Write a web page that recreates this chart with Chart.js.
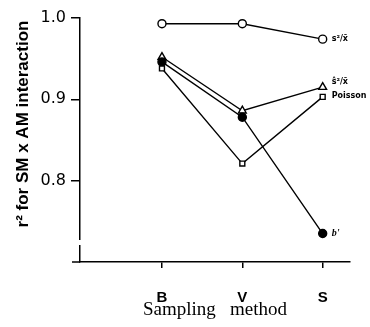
<!DOCTYPE html>
<html>
<head>
<meta charset="utf-8">
<script src="https://cdn.jsdelivr.net/npm/chart.js@4.4.0/dist/chart.umd.min.js"></script>
<style>
  html, body { margin: 0; padding: 0; background: #fff; }
  #wrap { width: 370px; height: 327px; }
</style>
</head>
<body>
<div id="wrap"><canvas id="chart" width="370" height="327"></canvas></div>
<script>
// sampling methods on the x axis
const methods = ['B', 'V', 'S'];
// r^2 values
const s2xValues = [0.993, 0.993, 0.974];
const shatValues = [0.952, 0.886, 0.915];
const poissonValues = [0.938, 0.821, 0.903];
const bPrimeValues = [0.946, 0.878, 0.735];
const seriesNames = ['s²/x̄', 'ŝ²/x̄', 'Poisson', "b'"];
const yTicks = [0.8, 0.9, 1.0];

const toPoints = vals => vals.map((v, i) => ({ x: i, y: v }));

// draws the axis break, the cross at the origin, the series labels and the y title
const extras = {
    id: 'extras',
    afterDraw(chart) {
        const ctx = chart.ctx;
        const xs = chart.scales.x, ys = chart.scales.y;
        const area = chart.chartArea;
        ctx.save();
        // break in the y axis
        ctx.fillStyle = '#fff';
        ctx.fillRect(area.left - 3, 240, 6, 5);
        // x axis sticks out a bit left of the y axis
        ctx.strokeStyle = '#000';
        ctx.lineWidth = 1.5;
        ctx.beginPath();
        ctx.moveTo(area.left - 8, area.bottom);
        ctx.lineTo(area.left, area.bottom);
        ctx.stroke();

        // series labels next to the S points
        ctx.fillStyle = '#000';
        ctx.textBaseline = 'middle';
        const sx = xs.getPixelForValue(2) + 9;
        ctx.font = 'bold 8px "DejaVu Sans", sans-serif';
        ctx.fillText(seriesNames[0], sx, ys.getPixelForValue(s2xValues[2]));
        ctx.fillText(seriesNames[1], sx, ys.getPixelForValue(shatValues[2]) - 5);
        ctx.fillText(seriesNames[2], sx, ys.getPixelForValue(poissonValues[2]) - 1);
        ctx.font = 'italic bold 10px "Liberation Serif", serif';
        ctx.fillText(seriesNames[3], sx, ys.getPixelForValue(bPrimeValues[2]));

        // y axis title
        ctx.translate(28, 124);
        ctx.rotate(-Math.PI / 2);
        ctx.textAlign = 'center';
        ctx.textBaseline = 'alphabetic';
        ctx.font = 'bold 17px "Liberation Sans", Arial, sans-serif';
        ctx.fillText('r² for SM x AM interaction', 0, 0);
        ctx.restore();
    }
};

const lineStyle = {
    borderColor: '#000',
    borderWidth: 1.4,
    pointBorderColor: '#000',
    pointBorderWidth: 1.4,
    tension: 0
};

new Chart(document.getElementById('chart'), {
    type: 'line',
    data: {
        datasets: [
            { ...lineStyle, label: seriesNames[2], data: toPoints(poissonValues),
              pointStyle: 'rect', pointRadius: 3.5, pointBackgroundColor: '#fff' },
            { ...lineStyle, label: seriesNames[3], data: toPoints(bPrimeValues),
              pointStyle: 'circle', pointRadius: 4, pointBackgroundColor: '#000' },
            { ...lineStyle, label: seriesNames[1], data: toPoints(shatValues),
              pointStyle: 'triangle', pointRadius: 4.5, pointBackgroundColor: '#fff' },
            { ...lineStyle, label: seriesNames[0], data: toPoints(s2xValues),
              pointStyle: 'circle', pointRadius: 4, pointBackgroundColor: '#fff' }
        ]
    },
    options: {
        responsive: false,
        animation: false,
        layout: { padding: { top: 18, right: 20, left: 0, bottom: 0 } },
        plugins: { legend: { display: false }, tooltip: { enabled: false } },
        scales: {
            x: {
                type: 'linear',
                min: -1.02,
                max: 2.34,
                afterBuildTicks: s => { s.ticks = methods.map((m, i) => ({ value: i })); },
                afterFit: s => { s.height = 65; },
                border: { color: '#000', width: 1.5 },
                grid: { display: true, drawOnChartArea: false, drawTicks: true, tickLength: 6, color: '#000', lineWidth: 1.5 },
                ticks: {
                    color: '#000',
                    padding: 21,
                    maxRotation: 0,
                    font: { family: '"Liberation Sans", Arial, sans-serif', size: 15, weight: 'bold' },
                    callback: v => methods[v]
                },
                title: {
                    display: true,
                    text: 'Sampling   method',
                    color: '#000',
                    padding: { top: 0, bottom: 6 },
                    font: { family: '"Liberation Serif", "Times New Roman", serif', size: 19 }
                }
            },
            y: {
                min: 0.7,
                max: 1.0,
                afterBuildTicks: s => { s.ticks = yTicks.map(v => ({ value: v })); },
                afterFit: s => { s.width = 80; },
                border: { color: '#000', width: 1.5 },
                grid: { display: true, drawOnChartArea: false, drawTicks: true, tickLength: 9, color: '#000', lineWidth: 1.5 },
                ticks: {
                    color: '#000',
                    padding: 5,
                    font: { family: '"DejaVu Sans", sans-serif', size: 16 },
                    callback: v => v.toFixed(1)
                }
            }
        }
    },
    plugins: [extras]
});
</script>
</body>
</html>
